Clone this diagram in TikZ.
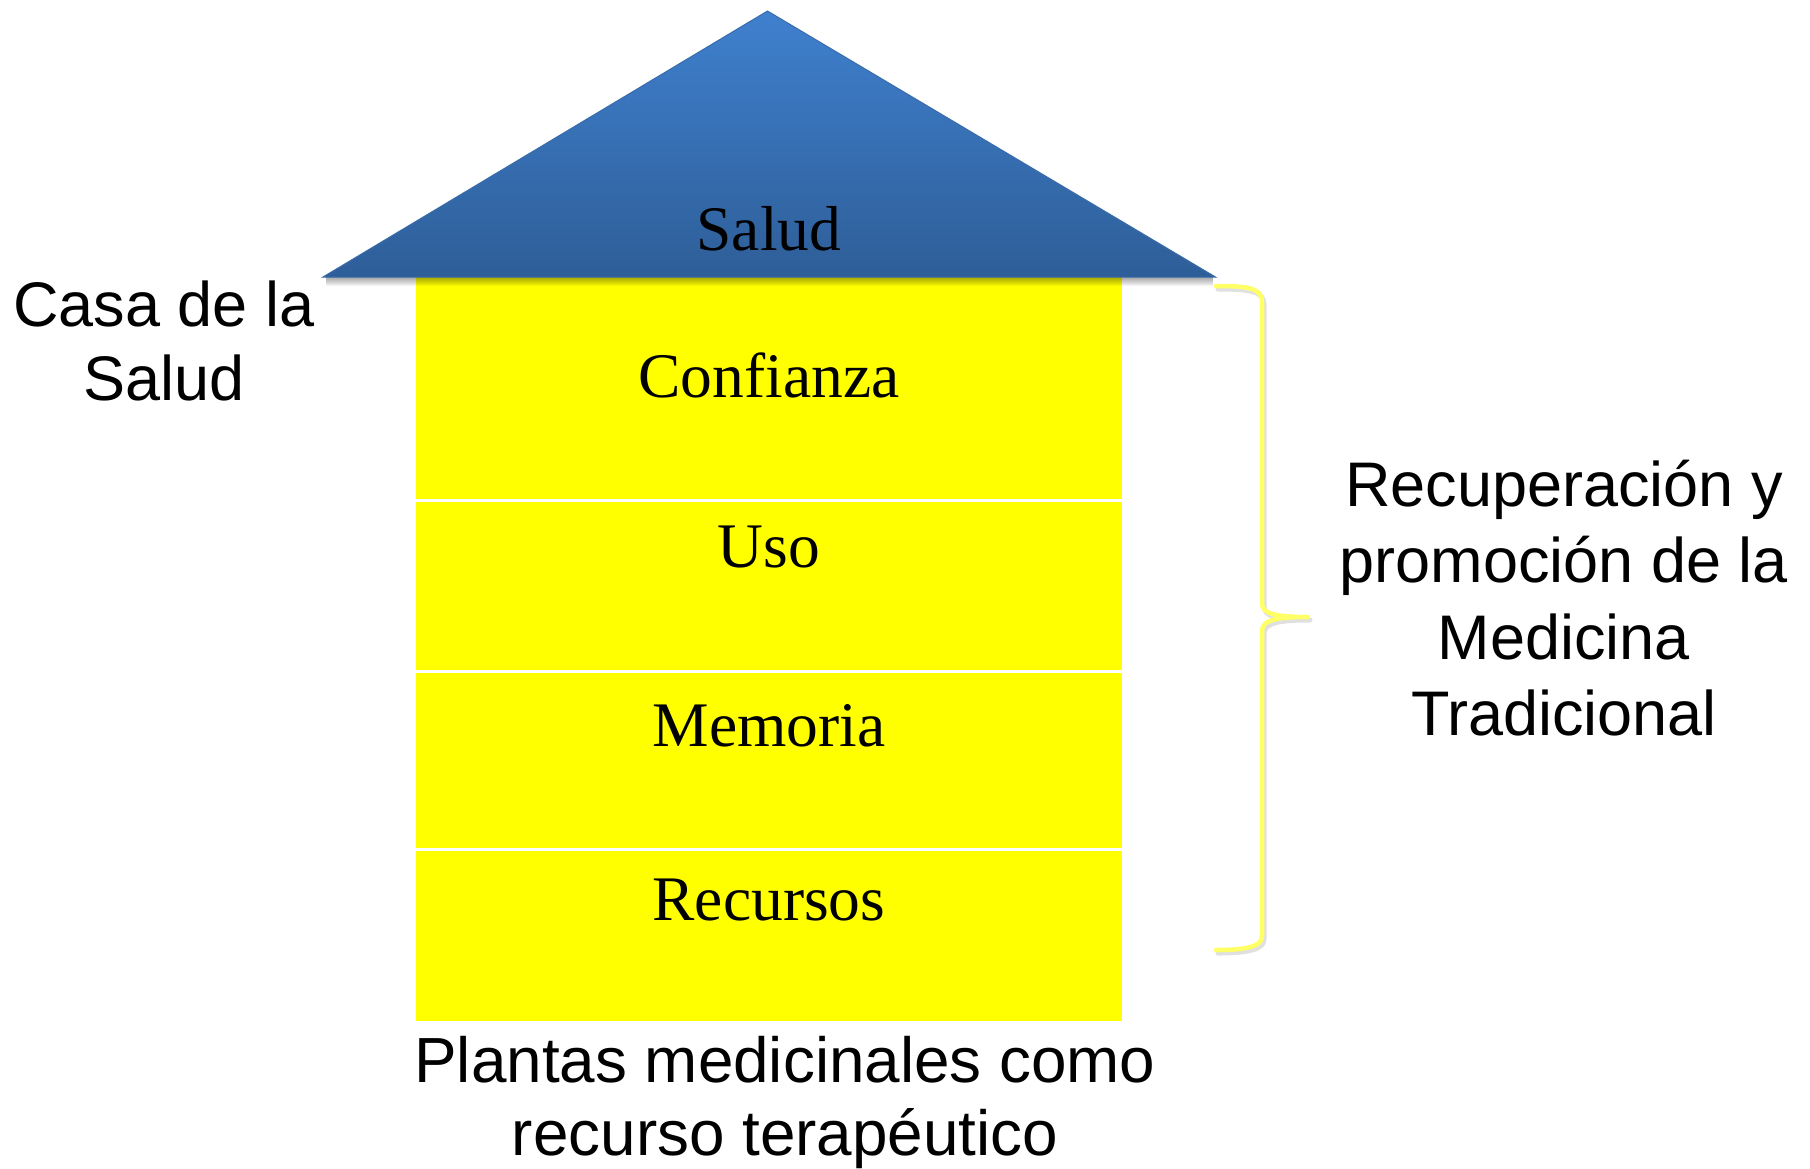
\documentclass[tikz,border=0pt]{standalone}
\usepackage{fontspec}
\setmainfont{Liberation Serif}
\newfontfamily\arialf{Liberation Sans}
\definecolor{roofTop}{HTML}{3F80CE}
\definecolor{roofBot}{HTML}{2E5E98}
\definecolor{roofEdge}{HTML}{3A6CAA}
\definecolor{floorY}{HTML}{FFFF00}
\definecolor{braceY}{HTML}{FFFF66}
\tikzset{
  serifLbl/.style={font=\fontsize{63.5}{76}\selectfont, inner sep=0pt, anchor=base},
  sansLbl/.style={font=\arialf\fontsize{63}{75}\selectfont, inner sep=0pt, anchor=base},
  sansBig/.style={font=\arialf\fontsize{63.8}{75}\selectfont, inner sep=0pt, anchor=base},
  floorbox/.style={fill=floorY},
  braceLine/.style={draw=braceY, line width=4.5pt, line cap=round, line join=round},
  braceShadow/.style={draw=black, opacity=0.12, line width=5pt, line cap=round, line join=round}
}
\begin{document}
\begin{tikzpicture}[x=1pt,y=-1pt]
\useasboundingbox (0,0) rectangle (1810,1168);
\fill[white] (0,0) rectangle (1810,1168);

% floors
\fill[floorbox] (416,277) rectangle (1122,499);
\fill[floorbox] (416,502) rectangle (1122,670);
\fill[floorbox] (416,673) rectangle (1122,848);
\fill[floorbox] (416,851) rectangle (1122,1021);

% roof shadow
\foreach \i in {1,...,9}
  \fill[black, opacity=0.045] (326,277) rectangle (1213,277+\i);

% roof
\shade[top color=roofTop, bottom color=roofBot, draw=roofEdge, line width=1pt]
  (767.5,11) -- (1215.5,277) -- (323,277) -- cycle;

% serif labels
\node[serifLbl] (salud) at (769,250) {Salud};
\node[serifLbl] (conf) at (769,397) {Confianza};
\node[serifLbl] (uso) at (769,567) {Uso};
\node[serifLbl] (mem) at (769,746) {Memoria};
\node[serifLbl] (rec) at (769,920) {Recursos};

% left label
\node[sansLbl] (casaA) at (164,326) {Casa de la};
\node[sansLbl] (casaB) at (164,400) {Salud};

% right label
\node[sansLbl] (recA) at (1564,506) {Recuperación y};
\node[sansLbl] (recB) at (1564,582) {promoción de la};
\node[sansLbl] (recC) at (1564,659) {Medicina};
\node[sansLbl] (recD) at (1564,735) {Tradicional};

% bottom label
\node[sansBig] (plA) at (785,1082) {Plantas medicinales como};
\node[sansBig] (plB) at (785,1155) {recurso terapéutico};

% brace
\draw[braceShadow, shift={(2,3)}] (1216,286) .. controls (1248,286) and (1262,288) .. (1262,302)
  -- (1262,603) .. controls (1262,614) and (1276,617) .. (1308,617)
  .. controls (1276,617) and (1262,620) .. (1262,631)
  -- (1262,936) .. controls (1262,946) and (1248,950) .. (1216,950);
\draw[braceLine] (1216,286) .. controls (1248,286) and (1262,288) .. (1262,302)
  -- (1262,603) .. controls (1262,614) and (1276,617) .. (1308,617)
  .. controls (1276,617) and (1262,620) .. (1262,631)
  -- (1262,936) .. controls (1262,946) and (1248,950) .. (1216,950);
\end{tikzpicture}
\end{document}
